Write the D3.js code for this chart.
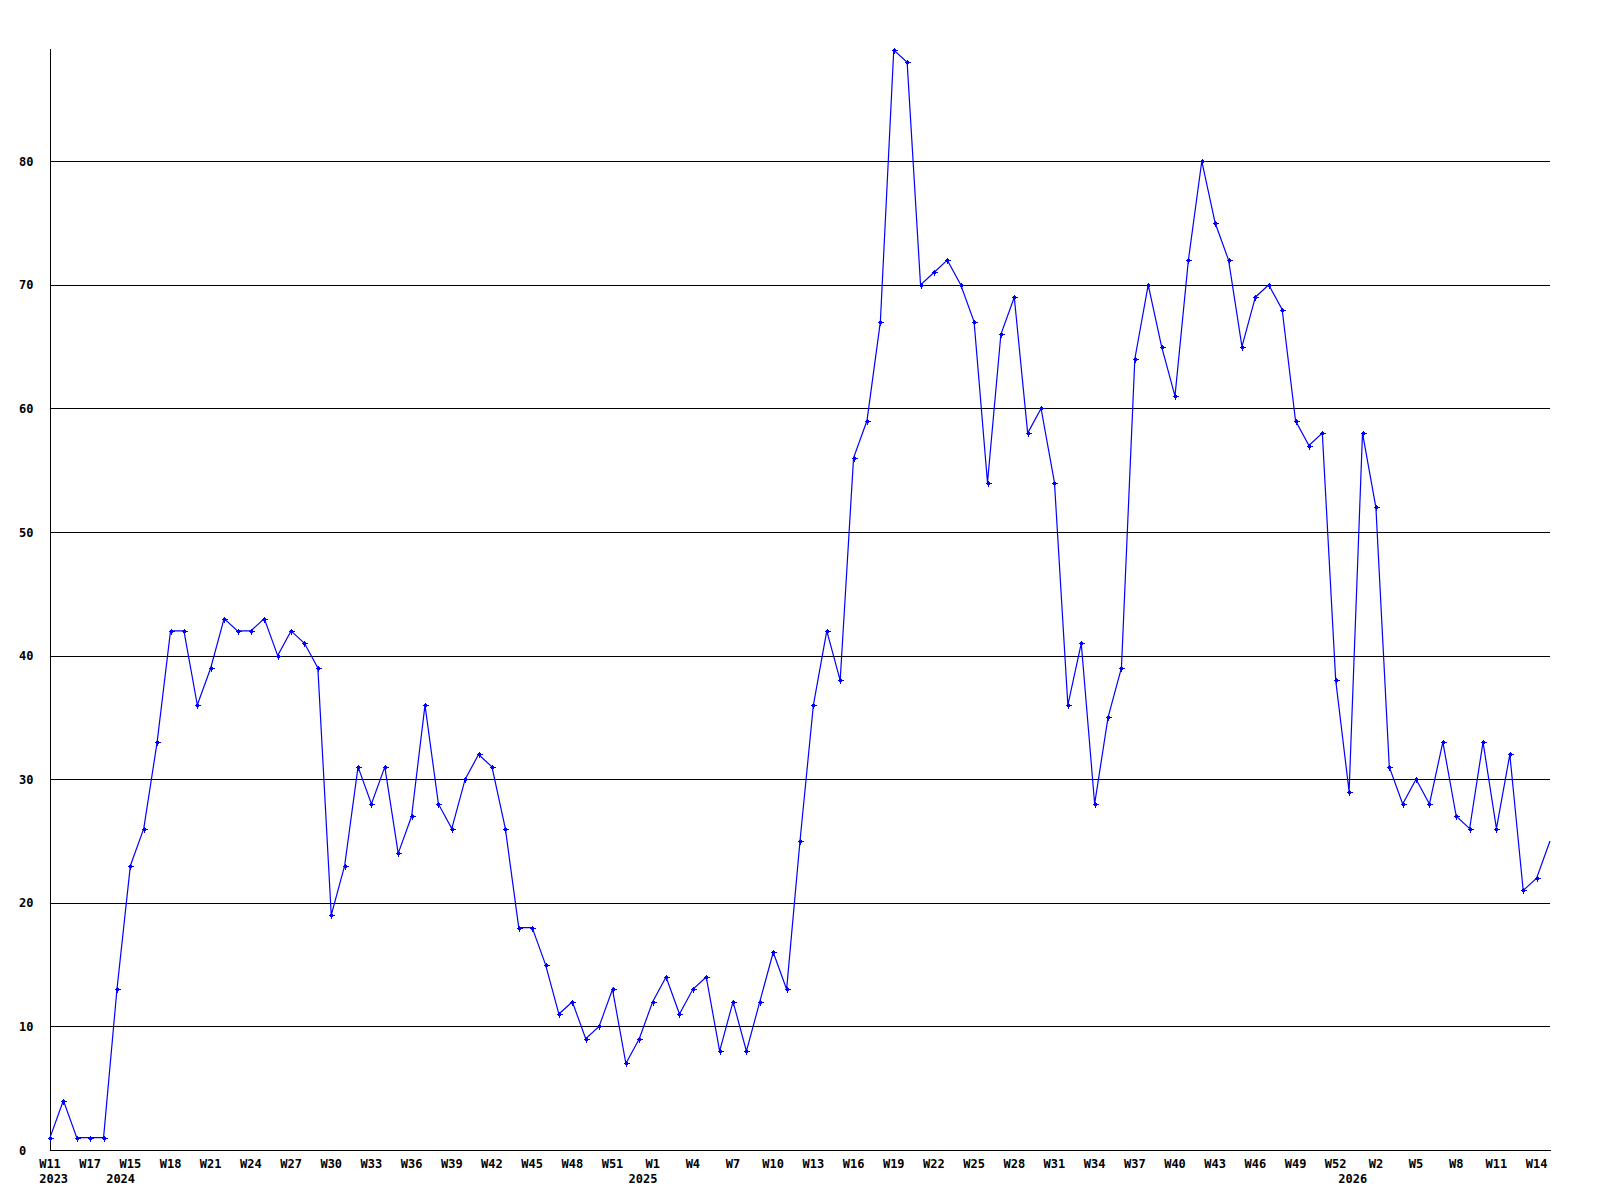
<!DOCTYPE html>
<html><head><meta charset="utf-8">
<script src="https://cdn.jsdelivr.net/npm/d3@7"></script>
<style>
body{margin:0;background:#fff}
svg{display:block}
text{font-family:"DejaVu Sans Mono","Liberation Mono",monospace;font-weight:bold;font-size:12px;fill:#000}
</style>
</head><body>
<svg id="chart" width="1600" height="1200"></svg>
<script>
// weekly values, one per point
const values = [
  1, 4, 1, 1, 1, 13, 23, 26, 33, 42,
  42, 36, 39, 43, 42, 42, 43, 40, 42, 41,
  39, 19, 23, 31, 28, 31, 24, 27, 36, 28,
  26, 30, 32, 31, 26, 18, 18, 15, 11, 12,
  9, 10, 13, 7, 9, 12, 14, 11, 13, 14,
  8, 12, 8, 12, 16, 13, 25, 36, 42, 38,
  56, 59, 67, 89, 88, 70, 71, 72, 70, 67,
  54, 66, 69, 58, 60, 54, 36, 41, 28, 35,
  39, 64, 70, 65, 61, 72, 80, 75, 72, 65,
  69, 70, 68, 59, 57, 58, 38, 29, 58, 52,
  31, 28, 30, 28, 33, 27, 26, 33, 26, 32,
  21, 22, 25
];
// week labels shown on every third point
const weekTicks = ["W11","W17","W15","W18","W21","W24","W27","W30","W33","W36",
  "W39","W42","W45","W48","W51","W1","W4","W7","W10","W13",
  "W16","W19","W22","W25","W28","W31","W34","W37","W40","W43",
  "W46","W49","W52","W2","W5","W8","W11","W14"];
const weekTickStep = 3;
// year labels and the point index they start at
const yearLabels = ["2023","2024","2025","2026"];
const yearIndex = [0, 5, 44, 97];
const yTicks = [0,10,20,30,40,50,60,70,80];

const svg = d3.select("#chart");
const mLeft = 50, mRight = 1550, mTop = 50, mBottom = 1150;

const x = d3.scaleLinear().domain([0, values.length - 1]).range([mLeft, mRight]);
const y = d3.scaleLinear().domain([0, d3.max(values)]).range([mBottom, mTop]);

const px = v => Math.round(v) + 0.5;

// gridlines
svg.append("g").selectAll("line").data(yTicks.filter(t => t > 0)).join("line")
  .attr("x1", mLeft).attr("x2", mRight)
  .attr("y1", d => px(y(d))).attr("y2", d => px(y(d)))
  .attr("stroke", "#000").attr("stroke-width", 1).attr("shape-rendering", "crispEdges");

// axes lines
svg.append("line").attr("x1", px(mLeft)).attr("x2", px(mLeft)).attr("y1", mTop - 1).attr("y2", mBottom + 1)
  .attr("stroke", "#000").attr("shape-rendering", "crispEdges");
svg.append("line").attr("x1", mLeft).attr("x2", mRight + 1).attr("y1", px(mBottom)).attr("y2", px(mBottom))
  .attr("stroke", "#000").attr("shape-rendering", "crispEdges");

// y labels
svg.append("g").selectAll("text").data(yTicks).join("text")
  .attr("x", 19).attr("y", d => y(d) + 4.5)
  .attr("text-anchor", "start").text(d => d);

// week labels
svg.append("g").selectAll("text").data(weekTicks).join("text")
  .attr("x", (d, i) => x(i * weekTickStep))
  .attr("y", 1168)
  .attr("text-anchor", "middle").text(d => d);

// year labels
svg.append("g").selectAll("text").data(yearLabels).join("text")
  .attr("x", (d, i) => x(yearIndex[i]) - 10.8)
  .attr("y", 1183)
  .attr("text-anchor", "start").text(d => d);

// line
const line = d3.line().x((d, i) => x(i)).y(d => y(d));
svg.append("path").datum(values)
  .attr("d", line).attr("fill", "none").attr("stroke", "#0000ff").attr("stroke-width", 1.2);

// markers (last point sits on the edge and has no marker in the reference)
const pts = values.map((v, i) => ({v, i})).filter(d => d.i < values.length - 1);
const mk = svg.append("g").attr("fill", "#0000ff").attr("stroke", "#0000ff");
mk.selectAll("path").data(pts).join("path")
  .attr("d", d => {
    const cx = Math.round(x(d.i)), cy = Math.round(y(d.v));
    return `M${cx - 2.5},${cy + 0.5}H${cx + 3.5}M${cx + 0.5},${cy - 2.5}V${cy + 3.5}`;
  })
  .attr("stroke-width", 1).attr("shape-rendering", "crispEdges");
mk.selectAll("rect").data(pts).join("rect")
  .attr("x", d => Math.round(x(d.i)) - 1).attr("y", d => Math.round(y(d.v)) - 1)
  .attr("width", 3).attr("height", 3).attr("stroke", "none");
</script>
</body></html>
